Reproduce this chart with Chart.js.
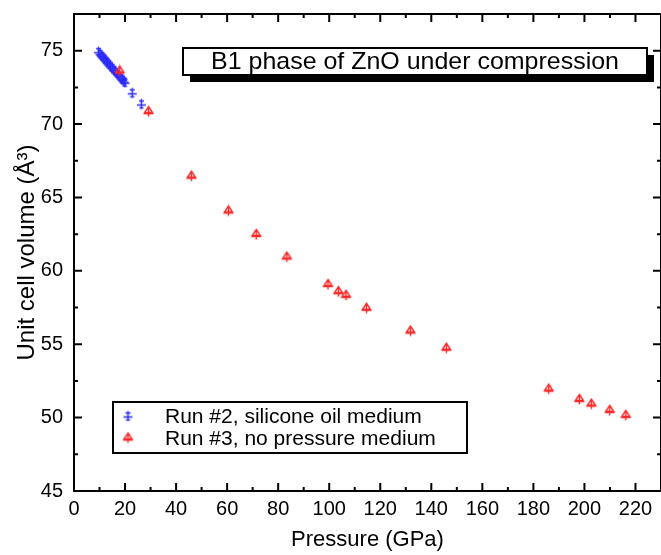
<!DOCTYPE html>
<html><head><meta charset="utf-8">
<script src="https://cdn.jsdelivr.net/npm/chart.js@4/dist/chart.umd.min.js"></script>
<style>html,body{margin:0;padding:0;background:#fff;overflow:hidden}#wrap{width:661px;height:555px;overflow:hidden}</style>
</head><body><div id="wrap"><canvas id="c" width="666" height="555"></canvas></div>
<script>
// ---- data ----
const seriesLabels = ['Run #2, silicone oil medium', 'Run #3, no pressure medium'];
const run2Pressure = [9.6, 10.2, 10.9, 11.5, 12.0, 12.6, 13.1, 13.7, 14.3, 14.9, 15.6, 16.3, 17.0, 17.7, 18.4, 19.0, 19.6, 20.0, 22.8, 26.4];
const run2Volume   = [74.93, 74.80, 74.66, 74.55, 74.44, 74.32, 74.22, 74.10, 73.97, 73.86, 73.72, 73.58, 73.45, 73.30, 73.16, 73.05, 72.93, 72.85, 72.13, 71.37];
const run3Pressure = [17.9, 29.2, 46.0, 60.5, 71.4, 83.4, 99.5, 103.6, 106.6, 114.6, 131.8, 145.9, 186.0, 198.0, 202.7, 209.9, 216.2];
const run3Volume   = [73.62, 70.85, 66.45, 64.08, 62.48, 60.94, 59.07, 58.58, 58.33, 57.45, 55.90, 54.73, 51.94, 51.24, 50.92, 50.49, 50.15];
const xTickLabels = ['0','20','40','60','80','100','120','140','160','180','200','220'];
const yTickLabels = ['45','50','55','60','65','70','75'];
const chartTitle = 'B1 phase of ZnO under compression';
const xAxisTitle = 'Pressure (GPa)';
const yAxisTitle = 'Unit cell volume (Å³)';

const FONT = '"Liberation Sans", Arial, Helvetica, sans-serif';
const BLUE = 'rgb(40,40,250)';
const RED = 'rgb(250,40,40)';

function makeMarker(kind, color) {
  const c = document.createElement('canvas');
  c.width = 13; c.height = 13;
  const g = c.getContext('2d');
  g.strokeStyle = color; g.lineWidth = 1.4;
  g.beginPath();
  if (kind === 'plus') {
    g.moveTo(6.5, 1.5); g.lineTo(6.5, 11.5);
    g.moveTo(2, 7.5); g.lineTo(11, 7.5);
    g.moveTo(4, 3.5); g.lineTo(9, 3.5);
    g.moveTo(4.5, 10.5); g.lineTo(8.5, 10.5);
  } else {
    g.moveTo(6.5, 1.5); g.lineTo(10.5, 7.5); g.lineTo(2.5, 7.5); g.closePath();
    g.moveTo(6.5, 1.5); g.lineTo(6.5, 11.5);
    g.moveTo(1.5, 8.5); g.lineTo(11.5, 8.5);
  }
  g.stroke();
  return c;
}
const blueMarker = makeMarker('plus', BLUE);
const redMarker = makeMarker('tri', RED);

const toPts = (xs, ys) => xs.map((x, i) => ({x: x, y: ys[i]}));

const framePlugin = {
  id: 'frame',
  afterDatasetsDraw(chart) {
    const {ctx, chartArea: a, scales: {x, y}} = chart;
    ctx.save();
    ctx.strokeStyle = '#000';
    ctx.lineWidth = 2;
    ctx.strokeRect(a.left, a.top, a.right - a.left, a.bottom - a.top);
    ctx.beginPath();
    for (let v = 0; v <= 230; v += 10) {
      const px = x.getPixelForValue(v);
      const len = (v % 20 === 0) ? 8 : 4;
      ctx.moveTo(px, a.bottom); ctx.lineTo(px, a.bottom - len);
      ctx.moveTo(px, a.top); ctx.lineTo(px, a.top + len);
    }
    for (let v = 45; v <= 77.5; v += 2.5) {
      const py = y.getPixelForValue(v);
      const len = (v % 5 === 0) ? 8 : 4;
      ctx.moveTo(a.left, py); ctx.lineTo(a.left + len, py);
      ctx.moveTo(a.right, py); ctx.lineTo(a.right - len, py);
    }
    ctx.stroke();
    ctx.restore();
  },
  afterDraw(chart) {
    const {ctx, chartArea: a} = chart;
    ctx.save();
    // title box with drop shadow
    const bx = a.left + 109, by = a.top + 34, bw = 464, bh = 27;
    ctx.fillStyle = '#000';
    ctx.fillRect(bx + 7, by + 7, bw, bh);
    ctx.fillStyle = '#fff';
    ctx.fillRect(bx, by, bw, bh);
    ctx.lineWidth = 2; ctx.strokeStyle = '#000';
    ctx.strokeRect(bx, by, bw, bh);
    ctx.fillStyle = '#000';
    ctx.font = '24px ' + FONT;
    ctx.textAlign = 'center'; ctx.textBaseline = 'middle';
    ctx.save();
    ctx.translate(bx + bw / 2, by + bh / 2 + 1);
    ctx.scale(1.04, 1);
    ctx.fillText(chartTitle, 0, 0);
    ctx.restore();
    // legend box
    const lx = a.left + 39, ly = a.top + 388, lw = 354, lh = 51;
    ctx.fillStyle = '#fff';
    ctx.fillRect(lx, ly, lw, lh);
    ctx.strokeRect(lx, ly, lw, lh);
    ctx.font = '21px ' + FONT;
    ctx.textAlign = 'left'; ctx.fillStyle = '#000';
    const markers = [blueMarker, redMarker];
    seriesLabels.forEach((lab, i) => {
      const cy = ly + 14 + i * 22;
      ctx.drawImage(markers[i], lx + 15 - 6.5, cy - 6.5);
      ctx.fillText(lab, lx + 52, cy + 1);
    });
    ctx.restore();
  }
};

new Chart(document.getElementById('c'), {
  type: 'scatter',
  data: {
    datasets: [
      {label: seriesLabels[0], data: toPts(run2Pressure, run2Volume), pointStyle: blueMarker, borderColor: BLUE, backgroundColor: BLUE, order: 1},
      {label: seriesLabels[1], data: toPts(run3Pressure, run3Volume), pointStyle: redMarker, borderColor: RED, backgroundColor: RED, order: 0}
    ]
  },
  options: {
    responsive: false,
    animation: false,
    layout: {padding: {top: 14, right: 0, left: 0, bottom: 0}},
    plugins: {legend: {display: false}, tooltip: {enabled: false}},
    scales: {
      x: {
        type: 'linear', min: 0, max: 230,
        grid: {display: false, drawTicks: false},
        border: {display: false},
        afterBuildTicks: s => { s.ticks = xTickLabels.map(v => ({value: +v})); },
        ticks: {color: '#000', font: {family: FONT, size: 20}, padding: 6, maxRotation: 0, autoSkip: false},
        title: {display: true, text: xAxisTitle, color: '#000', font: {family: FONT, size: 22}, padding: {top: 4, bottom: 2}},
        afterFit: s => { s.height = 64; s.paddingLeft = 0; s.paddingRight = 0; }
      },
      y: {
        type: 'linear', min: 45, max: 77.5,
        grid: {display: false, drawTicks: false},
        border: {display: false},
        afterBuildTicks: s => { s.ticks = yTickLabels.map(v => ({value: +v})); },
        ticks: {color: '#000', font: {family: FONT, size: 20}, padding: 11, autoSkip: false},
        title: {display: true, text: yAxisTitle, color: '#000', font: {family: FONT, size: 24}, padding: {top: 13, bottom: 4}},
        afterFit: s => { s.width = 74; s.paddingTop = 0; s.paddingBottom = 0; }
      }
    }
  },
  plugins: [framePlugin]
});
</script>
</body></html>
